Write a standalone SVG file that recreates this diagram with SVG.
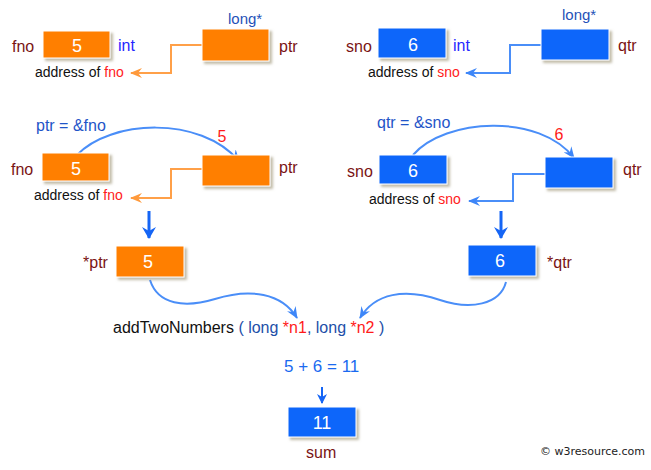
<svg xmlns="http://www.w3.org/2000/svg" width="651" height="470" viewBox="0 0 651 470">
<defs>
<filter id="sh" x="-10%" y="-10%" width="130%" height="140%">
<feDropShadow dx="2.5" dy="2.5" stdDeviation="1.2" flood-color="#9a9070" flood-opacity="0.6"/>
</filter>
<marker id="ao" viewBox="0 0 12 10" refX="11" refY="5" markerWidth="12" markerHeight="10" markerUnits="userSpaceOnUse" orient="auto">
<path d="M0,0 L12,5 L0,10 L4,5 z" fill="#ff9a3c"/>
</marker>
<marker id="ab" viewBox="0 0 12 10" refX="11" refY="5" markerWidth="12" markerHeight="10" markerUnits="userSpaceOnUse" orient="auto">
<path d="M0,0 L12,5 L0,10 L4,5 z" fill="#3d86f8"/>
</marker>
<marker id="ad" viewBox="0 0 12 14" refX="11" refY="7" markerWidth="12" markerHeight="14" markerUnits="userSpaceOnUse" orient="auto">
<path d="M0,0 L12,7 L0,14 L4,7 z" fill="#1565f5"/>
</marker>
<marker id="as" viewBox="0 0 10 10" refX="9" refY="5" markerWidth="10" markerHeight="10" markerUnits="userSpaceOnUse" orient="auto">
<path d="M0,0 L10,5 L0,10 L3,5 z" fill="#1565f5"/>
</marker>
</defs>
<style>
text{font-family:"Liberation Sans",Arial,sans-serif;}
.or{fill:#ff7f00;stroke:#ffffff;stroke-width:1;filter:url(#sh);}
.bl{fill:#0e66fa;stroke:#ffffff;stroke-width:1;filter:url(#sh);}
.v{fill:#ffffff;font-size:18px;text-anchor:middle;}
.nm{fill:#7a1414;font-size:16px;}
.ty{fill:#2626ff;font-size:16px;}
.lg{fill:#1f52b8;font-size:15px;}
.ad{fill:#111111;font-size:14px;}
.rd{fill:#ff1a1a;}
.asg{fill:#1f55c8;font-size:16px;}
.rv{fill:#ff1a1a;font-size:16px;text-anchor:middle;}
.co{fill:none;stroke:#ffa048;stroke-width:2;}
.cb{fill:none;stroke:#4a8ef8;stroke-width:2;}
.dn{fill:none;stroke:#1565f5;stroke-width:3;}
</style>

<g id="connectors">
<path class="co" d="M202,45 H171 V73 H131" marker-end="url(#ao)"/>
<path class="cb" d="M541,45 H510 V73 H466" marker-end="url(#ab)"/>
<path class="co" d="M202,169 H171 V198 H131" marker-end="url(#ao)"/>
<path class="cb" d="M545,174 H513 V201 H469" marker-end="url(#ab)"/>
<path class="cb" d="M77,155 C110,120 200,115 239,161" marker-end="url(#ab)"/>
<path class="cb" d="M413,155 C445,118 540,113 574,158" marker-end="url(#ab)"/>
<path class="dn" d="M149,211 V238" marker-end="url(#ad)"/>
<path class="dn" d="M501,211 V238" marker-end="url(#ad)"/>
<path class="cb" d="M150,280 C158,305 185,308 215,299 C250,288 282,293 297,318" marker-end="url(#ab)"/>
<path class="cb" d="M506,282 C500,305 470,310 440,300 C405,288 375,293 360,318" marker-end="url(#ab)"/>
<path class="dn" style="stroke-width:2" d="M322,387 V403" marker-end="url(#as)"/>
</g>

<g id="fno-top">
<rect class="or" x="43" y="31" width="67" height="27"/>
<text class="v" x="77" y="52">5</text>
<text class="nm" x="12" y="52">fno</text>
<text class="ty" x="118" y="51">int</text>
<text class="ad" x="35" y="77">address of <tspan class="rd">fno</tspan></text>
</g>
<g id="ptr-top">
<rect class="or" x="202" y="29" width="67" height="32"/>
<text class="lg" x="228" y="24">long*</text>
<text class="nm" x="279" y="52">ptr</text>
</g>
<g id="sno-top">
<rect class="bl" x="378" y="28" width="68" height="30"/>
<text class="v" x="413" y="51">6</text>
<text class="nm" x="346" y="52">sno</text>
<text class="ty" x="453" y="51">int</text>
<text class="ad" x="368" y="77">address of <tspan class="rd">sno</tspan></text>
</g>
<g id="qtr-top">
<rect class="bl" x="541" y="29" width="68" height="31"/>
<text class="lg" x="562" y="20">long*</text>
<text class="nm" x="618" y="51">qtr</text>
</g>

<g id="fno-mid">
<text class="asg" x="36" y="131">ptr = &amp;fno</text>
<rect class="or" x="42" y="153" width="67" height="28"/>
<text class="v" x="76" y="175">5</text>
<text class="nm" x="11" y="175">fno</text>
<text class="ad" x="34" y="200">address of <tspan class="rd">fno</tspan></text>
</g>
<g id="ptr-mid">
<text class="rv" x="222" y="142">5</text>
<rect class="or" x="202" y="155" width="68" height="31"/>
<text class="nm" x="279" y="173">ptr</text>
</g>
<g id="sno-mid">
<text class="asg" x="377" y="128">qtr = &amp;sno</text>
<rect class="bl" x="379" y="155" width="68" height="29"/>
<text class="v" x="413" y="177">6</text>
<text class="nm" x="347" y="177">sno</text>
<text class="ad" x="369" y="204">address of <tspan class="rd">sno</tspan></text>
</g>
<g id="qtr-mid">
<text class="rv" x="559" y="140">6</text>
<rect class="bl" x="545" y="157" width="68" height="31"/>
<text class="nm" x="623" y="175">qtr</text>
</g>

<g id="deref-ptr">
<rect class="or" x="116" y="246" width="68" height="31"/>
<text class="v" x="148" y="268">5</text>
<text class="nm" x="83" y="268">*ptr</text>
</g>
<g id="deref-qtr">
<rect class="bl" x="468" y="245" width="68" height="31"/>
<text class="v" x="500" y="267">6</text>
<text class="nm" x="547" y="268">*qtr</text>
</g>

<g id="function">
<text x="113" y="333" style="font-size:16px;fill:#111111">addTwoNumbers <tspan fill="#1d4fa8">( long </tspan><tspan fill="#ff1a1a">*n1</tspan><tspan fill="#1d4fa8">, long </tspan><tspan fill="#ff1a1a">*n2</tspan><tspan fill="#1d4fa8"> )</tspan></text>
<text x="284" y="372" style="font-size:17px;fill:#1a6af0">5 + 6 = 11</text>
</g>

<g id="sum">
<rect class="bl" x="288" y="407" width="68" height="30"/>
<text class="v" x="322" y="429">11</text>
<text class="nm" x="306" y="458">sum</text>
</g>

<text x="540" y="455" style="font-family:'DejaVu Sans',Verdana,sans-serif;font-size:11px;fill:#222222">© w3resource.com</text>
</svg>
